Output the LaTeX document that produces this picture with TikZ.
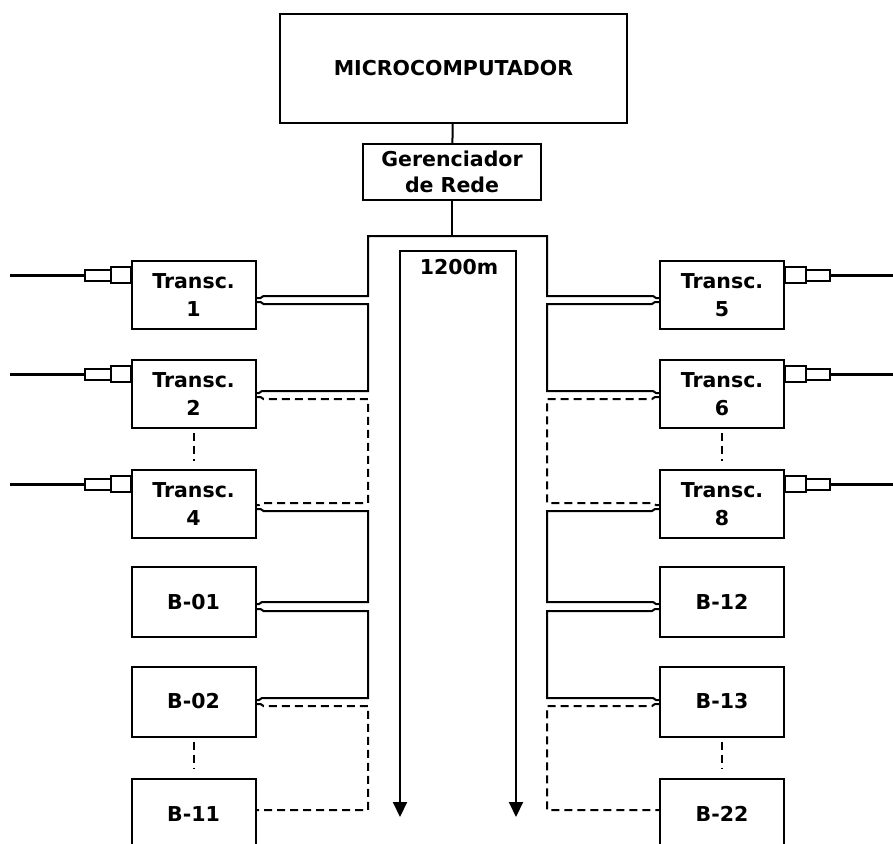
\documentclass[tikz,border=0pt]{standalone}
\usepackage{fontspec}
\setsansfont{DejaVu Sans}
\usetikzlibrary{arrows.meta, positioning, calc}

\begin{document}
\begin{tikzpicture}[
    x=1pt, y=-1pt,
    box/.style={rectangle, draw, line width=2pt, minimum width=124pt, minimum height=68pt, inner sep=0pt, align=center, font=\sffamily\bfseries\fontsize{20.5}{28}\selectfont},
    bbox/.style={box, minimum height=70pt},
    wire/.style={line width=2pt},
    dwire/.style={wire, dash pattern=on 8pt off 5pt},
    fibra/.style={line width=3.6pt},
    seta/.style={wire, {Triangle[width=14pt, length=15pt]}-{Triangle[width=14pt, length=15pt]}},
]
    \useasboundingbox (0,0) rectangle (893,843);

    % Nodes
    \node[box, minimum width=347pt, minimum height=109pt] (micro) at (453.5,68.5) {MICROCOMPUTADOR};
    \node[box, minimum width=178pt, minimum height=56pt, font=\sffamily\bfseries\fontsize{20.5}{26}\selectfont] (ger) at (452,172) {Gerenciador\\de Rede};
    \node[box] (t1) at (193.5,295) {Transc.\\1};
    \node[box] (t2) at (193.5,394) {Transc.\\2};
    \node[box] (t4) at (193.5,504) {Transc.\\4};
    \node[bbox] (b01) at (193.5,602) {B-01};
    \node[bbox] (b02) at (193.5,701.5) {B-02};
    \node[bbox] (b11) at (193.5,814) {B-11};
    \node[box] (t5) at (722,295) {Transc.\\5};
    \node[box] (t6) at (722,394) {Transc.\\6};
    \node[box] (t8) at (722,504) {Transc.\\8};
    \node[bbox] (b12) at (722,602) {B-12};
    \node[bbox] (b13) at (722,701.5) {B-13};
    \node[bbox] (b22) at (722,814) {B-22};
    \node[font=\sffamily\bfseries\fontsize{20.5}{24}\selectfont] (dist) at (459,267) {1200m};
    \coordinate (fimE) at (400,817);
    \coordinate (fimD) at (516,817);

    % Bus
    \draw[wire] (micro) -- (ger);
    \draw[wire] (ger) -- (ger |- 0,236);
    \draw[wire] (t1.east |- 0,298) -- ++(4,0) -- ++(3,-2) -- (368,296) |- (547,236) -- (547,296) -- (653,296) -- ++(3,2) -- (t5.west |- 0,298);
    \draw[seta] (fimE) -- (400,251) -- (516,251) -- (fimD);

    % Left chain
    \draw[wire] (t1.east |- 0,302) -- ++(4,0) -- ++(3,2) -- (368,304) -- (368,391) -- (262,391) -- ++(-3,2) -- (t2.east |- 0,393);
    \draw[dwire] (t2.east |- 0,397) -- ++(4,0) -- ++(3,2) -- (368,399) -- (368,503) -- (262,503) -- ++(-3,2) -- (t4.east |- 0,505);
    \draw[wire] (t4.east |- 0,509) -- ++(4,0) -- ++(3,2) -- (368,511) -- (368,602) -- (262,602) -- ++(-3,2) -- (b01.east |- 0,604);
    \draw[wire] (b01.east |- 0,609) -- ++(4,0) -- ++(3,2) -- (368,611) -- (368,698) -- (262,698) -- ++(-3,2) -- (b02.east |- 0,700);
    \draw[dwire] (b02.east |- 0,704) -- ++(4,0) -- ++(3,2) -- (368,706) -- (368,810) -- (b11.east |- 0,810);

    % Right chain
    \draw[wire] (t5.west |- 0,302) -- ++(-4,0) -- ++(-3,2) -- (547,304) -- (547,391) -- (653,391) -- ++(3,2) -- (t6.west |- 0,393);
    \draw[dwire] (t6.west |- 0,397) -- ++(-4,0) -- ++(-3,2) -- (547,399) -- (547,503) -- (653,503) -- ++(3,2) -- (t8.west |- 0,505);
    \draw[wire] (t8.west |- 0,509) -- ++(-4,0) -- ++(-3,2) -- (547,511) -- (547,602) -- (653,602) -- ++(3,2) -- (b12.west |- 0,604);
    \draw[wire] (b12.west |- 0,609) -- ++(-4,0) -- ++(-3,2) -- (547,611) -- (547,698) -- (653,698) -- ++(3,2) -- (b13.west |- 0,700);
    \draw[dwire] (b13.west |- 0,704) -- ++(-4,0) -- ++(-3,2) -- (547,706) -- (547,810) -- (b22.west |- 0,810);

    % Omitted units
    \draw[dwire] ($(t2.south)+(0,4)$) -- ($(t4.north)+(0,-8)$);
    \draw[dwire] ($(b02.south)+(0,4)$) -- ($(b11.north)+(0,-9)$);
    \draw[dwire] ($(t6.south)+(0,4)$) -- ($(t8.north)+(0,-8)$);
    \draw[dwire] ($(b13.south)+(0,4)$) -- ($(b22.north)+(0,-9)$);

    % Fibre connectors
    \draw[wire] ($(t1.north west)+(-20,7)$) rectangle ++(20,16) ($(t1.north west)+(-46,10)$) rectangle ++(26,11);
    \draw[fibra] ($(t1.north west)+(-46,15.5)$) -- ++(-75,0);
    \draw[wire] ($(t2.north west)+(-20,7)$) rectangle ++(20,16) ($(t2.north west)+(-46,10)$) rectangle ++(26,11);
    \draw[fibra] ($(t2.north west)+(-46,15.5)$) -- ++(-75,0);
    \draw[wire] ($(t4.north west)+(-20,7)$) rectangle ++(20,16) ($(t4.north west)+(-46,10)$) rectangle ++(26,11);
    \draw[fibra] ($(t4.north west)+(-46,15.5)$) -- ++(-75,0);
    \draw[wire] ($(t5.north east)+(0,7)$) rectangle ++(21,16) ($(t5.north east)+(21,10)$) rectangle ++(24,11);
    \draw[fibra] ($(t5.north east)+(45,15.5)$) -- ++(70,0);
    \draw[wire] ($(t6.north east)+(0,7)$) rectangle ++(21,16) ($(t6.north east)+(21,10)$) rectangle ++(24,11);
    \draw[fibra] ($(t6.north east)+(45,15.5)$) -- ++(70,0);
    \draw[wire] ($(t8.north east)+(0,7)$) rectangle ++(21,16) ($(t8.north east)+(21,10)$) rectangle ++(24,11);
    \draw[fibra] ($(t8.north east)+(45,15.5)$) -- ++(70,0);
\end{tikzpicture}
\end{document}
